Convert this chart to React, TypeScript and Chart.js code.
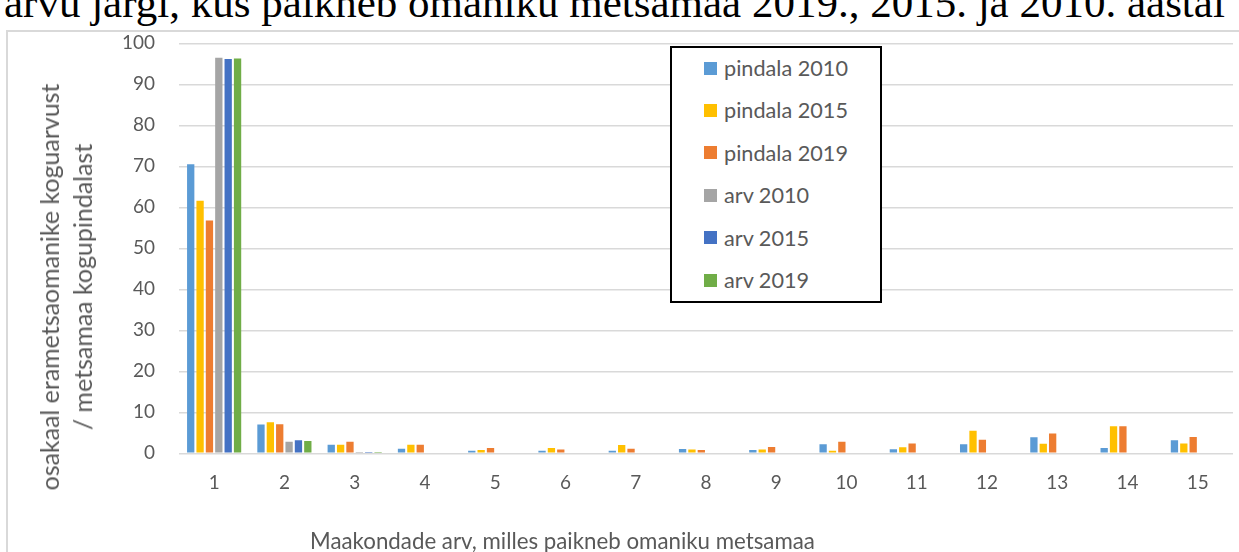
import React, { useEffect, useRef, useState } from "react";
import { Chart, registerables } from "chart.js";

Chart.register(...registerables);

const categories = ["1", "2", "3", "4", "5", "6", "7", "8", "9", "10", "11", "12", "13", "14", "15"];
const pindala2010 = [70.5, 7.0, 2.1, 1.1, 0.6, 0.65, 0.6, 1.05, 0.8, 2.2, 1.0, 2.2, 3.9, 1.3, 3.2];
const pindala2015 = [61.6, 7.6, 2.1, 2.1, 0.8, 1.3, 2.0, 0.9, 0.9, 0.6, 1.5, 5.5, 2.3, 6.6, 2.4];
const pindala2019 = [56.8, 7.1, 2.8, 2.1, 1.3, 0.9, 1.1, 0.8, 1.55, 2.8, 2.4, 3.3, 4.8, 6.6, 4.0];
const arv2010 = [96.5, 2.8, 0.3, 0, 0, 0, 0, 0, 0, 0, 0, 0, 0, 0, 0];
const arv2015 = [96.2, 3.2, 0.3, 0, 0, 0, 0, 0, 0, 0, 0, 0, 0, 0, 0];
const arv2019 = [96.3, 3.0, 0.3, 0, 0, 0, 0, 0, 0, 0, 0, 0, 0, 0, 0];
const yTicks = [0, 10, 20, 30, 40, 50, 60, 70, 80, 90, 100];

const seriesNames = ["pindala 2010", "pindala 2015", "pindala 2019", "arv 2010", "arv 2015", "arv 2019"];
const seriesColors = ["#5B9BD5", "#FFC000", "#ED7D31", "#A5A5A5", "#4472C4", "#70AD47"];
const seriesData = [pindala2010, pindala2015, pindala2019, arv2010, arv2015, arv2019];

const titleText = "arvu järgi, kus paikneb omaniku metsamaa 2019., 2015. ja 2010. aastal";
const xTitle = "Maakondade arv, milles paikneb omaniku metsamaa";
const yTitle1 = "osakaal erametsaomanike koguarvust";
const yTitle2 = "/ metsamaa kogupindalast";

const FONT = "Lato, 'Open Sans', sans-serif";
const SERIF = "'Liberation Serif', 'Times New Roman', serif";
const TEXT = "#595959";

function fitSize(text: string, family: string, target: number): number {
  const c = document.createElement("canvas");
  const ctx = c.getContext("2d");
  if (!ctx) return 20;
  ctx.font = `100px ${family}`;
  const w = ctx.measureText(text).width;
  return w > 0 ? (100 * target) / w : 20;
}

export default function App() {
  const canvasRef = useRef<HTMLCanvasElement | null>(null);
  const [sizes] = useState(() => ({
    title: fitSize(titleText, SERIF, 1221),
    yTitle: fitSize(yTitle1, FONT, 407),
    xTitle: fitSize(xTitle, FONT, 505),
    legend: fitSize(seriesNames[0], FONT, 124),
    tick: fitSize("100", FONT, 33),
  }));

  useEffect(() => {
    document.body.style.margin = "0";
    const canvas = canvasRef.current;
    if (!canvas) return;
    const chart = new Chart(canvas, {
      type: "bar",
      data: {
        labels: categories,
        datasets: seriesData.map((d, i) => ({
          label: seriesNames[i],
          data: d,
          backgroundColor: seriesColors[i],
          borderWidth: 0,
          categoryPercentage: 0.8,
          barPercentage: 0.78,
        })),
      },
      options: {
        responsive: false,
        animation: false,
        devicePixelRatio: 1,
        layout: { padding: { top: 43.3, right: 6, bottom: 0, left: 0 } },
        plugins: {
          legend: { display: false },
          tooltip: { enabled: false },
          title: { display: false },
        },
        scales: {
          x: {
            grid: { display: false, drawTicks: false },
            border: { display: false },
            ticks: { color: TEXT, font: { family: FONT, size: sizes.tick }, padding: 18, maxRotation: 0 },
            afterFit: (s: any) => {
              s.height = 98.7;
            },
          },
          y: {
            min: 0,
            max: 100,
            afterBuildTicks: (s: any) => {
              s.ticks = yTicks.map((v) => ({ value: v }));
            },
            grid: { color: "#D9D9D9", lineWidth: 1.5, drawTicks: false },
            border: { display: false },
            ticks: { color: TEXT, font: { family: FONT, size: sizes.tick }, padding: 24 },
            afterFit: (s: any) => {
              s.width = 179;
            },
          },
        },
      },
    });
    return () => chart.destroy();
  }, [sizes]);

  return (
    <div style={{ position: "fixed", left: 0, top: 0, width: 1239, height: 552, overflow: "hidden", background: "#fff" }}>
      <div
        style={{
          position: "absolute",
          left: 4,
          top: -21,
          fontFamily: SERIF,
          fontSize: sizes.title,
          whiteSpace: "nowrap",
          color: "#000",
          lineHeight: "48px",
        }}
      >
        {titleText}
      </div>
      <div
        style={{
          position: "absolute",
          left: 6,
          top: 30,
          width: 1300,
          height: 600,
          border: "2px solid #D9D9D9",
          boxSizing: "border-box",
        }}
      />
      <canvas ref={canvasRef} width={1239} height={552} style={{ position: "absolute", left: 0, top: 0 }} />
      <div
        style={{
          position: "absolute",
          left: 66,
          top: 286.5,
          transform: "translate(-50%, -50%) rotate(-90deg)",
          fontFamily: FONT,
          fontSize: sizes.yTitle,
          lineHeight: "33px",
          color: TEXT,
          textAlign: "center",
          whiteSpace: "nowrap",
        }}
      >
        <div>{yTitle1}</div>
        <div>{yTitle2}</div>
      </div>
      <div
        style={{
          position: "absolute",
          left: 562.5,
          top: 540,
          transform: "translate(-50%, -50%)",
          fontFamily: FONT,
          fontSize: sizes.xTitle,
          color: TEXT,
          whiteSpace: "nowrap",
        }}
      >
        {xTitle}
      </div>
      <div
        style={{
          position: "absolute",
          left: 670,
          top: 46,
          width: 212,
          height: 257,
          border: "2px solid #000",
          boxSizing: "border-box",
          background: "#fff",
        }}
      >
        {seriesNames.map((n, i) => (
          <div
            key={n}
            style={{
              position: "absolute",
              left: 32,
              top: 20 + i * 42.4 - 14,
              height: 28,
              display: "flex",
              alignItems: "center",
              fontFamily: FONT,
              fontSize: sizes.legend,
              color: TEXT,
              whiteSpace: "nowrap",
            }}
          >
            <span style={{ display: "inline-block", width: 13, height: 13, background: seriesColors[i], marginRight: 7 }} />
            {n}
          </div>
        ))}
      </div>
    </div>
  );
}
